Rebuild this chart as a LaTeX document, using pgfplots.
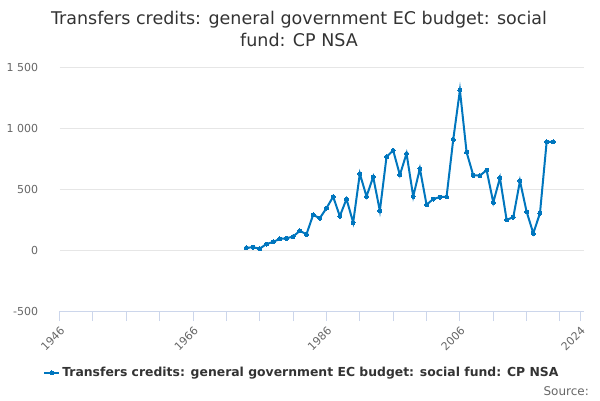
\documentclass[border=0pt]{standalone}
\usepackage{pgfplots}
\pgfplotsset{compat=1.18}
\usepackage{fontspec}
\setmainfont{DejaVu Sans}
\definecolor{line}{RGB}{0,118,190}
\definecolor{grid}{RGB}{230,230,230}
\definecolor{axisc}{RGB}{204,214,235}
\definecolor{lab}{RGB}{102,102,102}
\definecolor{ttl}{RGB}{51,51,51}
\begin{document}
\begin{tikzpicture}[x=1bp,y=1bp]
\useasboundingbox (0,0) rectangle (600,400);
\node[align=center,text=ttl,font=\fontsize{17.5bp}{22bp}\selectfont,anchor=center] at (299,371) {Transfers credits: general government EC budget: social\\fund: CP NSA};
\node[anchor=east,text=lab,font=\fontsize{12bp}{14bp}\selectfont,inner sep=0pt] at (589,9) {Source:};
\begin{axis}[
  at={(59.6bp,89bp)}, anchor=south west,
  scale only axis, width=524.4bp, height=244bp,
  xmin=1946, xmax=2024.6, ymin=-500, ymax=1500,
  axis lines=left,
  x axis line style={-,color=axisc,line width=1bp},
  y axis line style={draw=none},
  ytick={-500,0,500,1000,1500},
  yticklabels={-500,0,500,1 000,1 500},
  ytick style={draw=none},
  ymajorgrids, grid style={color=grid,line width=0.8bp},
  xtick={1946,1966,1986,2006,2024},
  xticklabels={1946,1966,1986,2006,2024},
  minor xtick={1951,1956,1961,1971,1976,1981,1991,1996,2001,2011,2016,2021},
  tick align=outside,
  major tick length=10bp, minor tick length=10bp,
  xtick style={color=axisc,line width=1bp},
  minor x tick style={color=axisc,line width=1bp},
  yticklabel style={text=lab,font=\fontsize{11bp}{13bp}\selectfont,xshift=-8bp},
  xticklabel style={text=lab,font=\fontsize{11bp}{13bp}\selectfont,rotate=45,anchor=north east,inner sep=1bp,xshift=-2bp,yshift=-2bp},
  legend style={at={(0.462,-0.254)},anchor=center,draw=none,fill=none,
    font=\bfseries\fontsize{12.4bp}{15bp}\selectfont,text=ttl},
  legend image code/.code={\draw[#1,mark repeat=2,mark phase=2] plot coordinates {(0bp,0bp) (7.5bp,0bp) (15bp,0bp)};},
  clip=false,
]
\addplot[color=line,line width=2bp,mark=*,mark size=2bp,mark options={solid,line width=0bp}] coordinates {
(1974,19) (1975,22) (1976,11) (1977,49) (1978,66) (1979,91) (1980,96)
(1981,110) (1982,157) (1983,129) (1984,288) (1985,261) (1986,343)
(1987,437) (1988,277) (1989,418) (1990,225) (1991,626) (1992,439)
(1993,599) (1994,321) (1995,764) (1996,816) (1997,615) (1998,791)
(1999,439) (2000,667) (2001,371) (2002,418) (2003,434) (2004,437)
(2005,906) (2006,1310) (2007,802) (2008,612) (2009,610) (2010,654)
(2011,390) (2012,591) (2013,247) (2014,269) (2015,566) (2016,313)
(2017,137) (2018,302) (2019,887) (2020,887)
};
\addlegendentry{Transfers credits: general government EC budget: social fund: CP NSA}
\end{axis}
\end{tikzpicture}
\end{document}
